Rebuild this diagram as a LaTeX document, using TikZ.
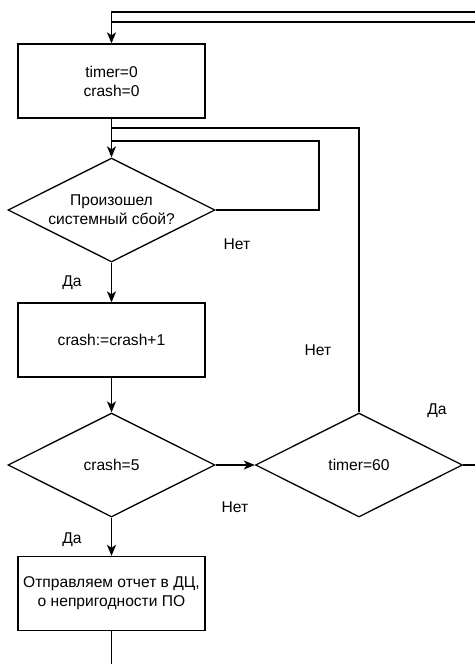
\documentclass[tikz,border=0pt]{standalone}
\usepackage{fontspec}
\setmainfont{Liberation Sans}
\usetikzlibrary{shapes.geometric,arrows.meta}
\begin{document}
\begin{tikzpicture}[x=1pt,y=-1pt,line width=1.3pt,
    every node/.style={font=\fontsize{15.6}{19}\selectfont,align=center},
    block/.style={rectangle,draw,minimum width=187pt,minimum height=74pt,inner sep=0pt},
    decision/.style={diamond,draw,aspect=2,minimum width=207pt,minimum height=104pt,inner sep=0pt},
    arrow/.style={-{Stealth[length=11pt,width=9pt,inset=3pt]}}]
    \useasboundingbox (0,0) rectangle (475,664);

    \node[block] (init) at (111.5,81) {timer=0\\crash=0};
    \node[decision] (crashq) at (111.5,210) {Произошел\\системный сбой?};
    \node[block] (inc) at (111.5,340) {crash:=crash+1};
    \node[decision] (five) at (111.5,465) {crash=5};
    \node[decision] (timer) at (359,465) {timer=60};
    \node[block] (report) at (111.5,593.5) {Отправляем отчет в ДЦ,\\о непригодности ПО};

    \coordinate (top1) at (475,12);
    \coordinate (top2) at (475,22);
    \coordinate (join2) at (111.5,22);
    \coordinate (join1) at (111.5,128);
    \coordinate (loop) at (319,141);
    \coordinate (join3) at (111.5,141);
    \coordinate (out) at (475,465);
    \coordinate (down) at (111.5,664);

    \draw [arrow] (top1) -| (init.north);
    \draw (top2) -- (join2);
    \path [arrow] (init) edge (crashq);
    \draw (timer.north) |- (join1);
    \draw (crashq.east) -| (loop) -- (join3);
    \path [arrow] (crashq) edge (inc);
    \path [arrow] (inc) edge (five);
    \path [arrow] (five) edge (timer);
    \draw (timer.east) -- (out);
    \path [arrow] (five) edge (report);
    \draw (report.south) -- (down);

    \node at (237,244) {Нет};
    \node at (72,283) {Да};
    \node at (318,350) {Нет};
    \node at (437,411) {Да};
    \node at (235,507) {Нет};
    \node at (72,540) {Да};
\end{tikzpicture}
\end{document}
